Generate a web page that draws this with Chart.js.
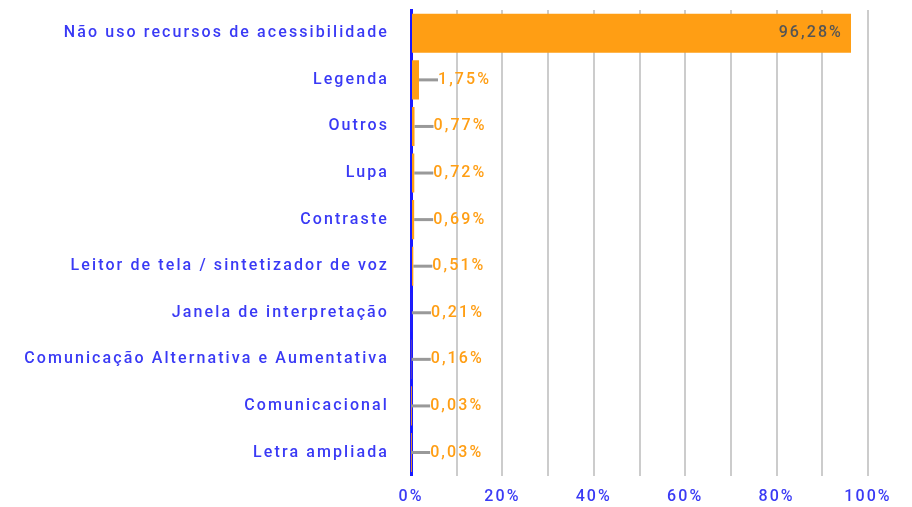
<!DOCTYPE html>
<html><head><meta charset="utf-8">
<script src="https://cdn.jsdelivr.net/npm/chart.js@4.4.0/dist/chart.umd.min.js"></script>
<style>html,body{margin:0;padding:0;background:#fff}#wrap{width:912px;height:507px;position:relative}</style>
</head><body><div id="wrap"><canvas id="c"></canvas></div>
<script>
const categories = ["Não uso recursos de acessibilidade","Legenda","Outros","Lupa","Contraste","Leitor de tela / sintetizador de voz","Janela de interpretação","Comunicação Alternativa e Aumentativa","Comunicacional","Letra ampliada"];
const values = [96.28,1.75,0.77,0.72,0.69,0.51,0.21,0.16,0.03,0.03];
const xTicks = [0,20,40,60,80,100];

const BLUE = '#3a3af5';
const ORANGE = '#ff9e14';
const FONT = 'Roboto';
const SP = '2.1px';

const spacing = {
  id:'spacing',
  beforeUpdate(chart){ chart.ctx.letterSpacing = SP; },
  beforeDraw(chart){ chart.ctx.letterSpacing = SP; }
};
const labels = {
  id:'labels',
  afterDatasetsDraw(chart){
    const ctx = chart.ctx;
    const meta = chart.getDatasetMeta(0);
    ctx.save();
    ctx.letterSpacing = SP;
    ctx.font = '500 16px ' + FONT;
    ctx.textBaseline = 'middle';
    meta.data.forEach((bar,i)=>{
      const v = values[i];
      const txt = v.toFixed(2).replace('.',',') + '%';
      if (v > 50) {
        ctx.fillStyle = '#555555';
        ctx.textAlign = 'right';
        ctx.fillText(txt, bar.x - 8, bar.y);
      } else {
        ctx.strokeStyle = '#999999';
        ctx.lineWidth = 3;
        ctx.beginPath();
        ctx.moveTo(bar.x, bar.y);
        ctx.lineTo(bar.x + 19, bar.y);
        ctx.stroke();
        ctx.fillStyle = ORANGE;
        ctx.textAlign = 'left';
        ctx.fillText(txt, bar.x + 19, bar.y);
      }
    });
    ctx.restore();
  }
};

new Chart(document.getElementById('c'), {
  type:'bar',
  data:{ labels: categories, datasets:[{ data: values, backgroundColor: ORANGE, borderWidth:0, barPercentage:0.84, categoryPercentage:1 }]},
  options:{
    indexAxis:'y', responsive:true, maintainAspectRatio:false, animation:false,
    layout:{ padding:{ top:10, right:44, bottom:-12, left:0 } },
    plugins:{ legend:{display:false}, tooltip:{enabled:false} },
    scales:{
      x:{ min:0, max:100,
        ticks:{ stepSize:10, autoSkip:false, maxRotation:0, color:BLUE, padding:12, font:{family:FONT,size:16,weight:'500'},
          callback:(v)=> xTicks.includes(v) ? v + '%' : '' },
        grid:{ color:'#cccccc', lineWidth:2, drawTicks:false },
        border:{ display:false }
      },
      y:{
        ticks:{ color:BLUE, padding:0, font:{family:FONT,size:16,weight:'500'} },
        grid:{ display:false, drawTicks:true, tickLength:22 },
        border:{ color:'#1a1aff', width:3 },
        afterFit(s){ s.width = 411; }
      }
    }
  },
  plugins:[spacing, labels]
});
</script></body></html>
